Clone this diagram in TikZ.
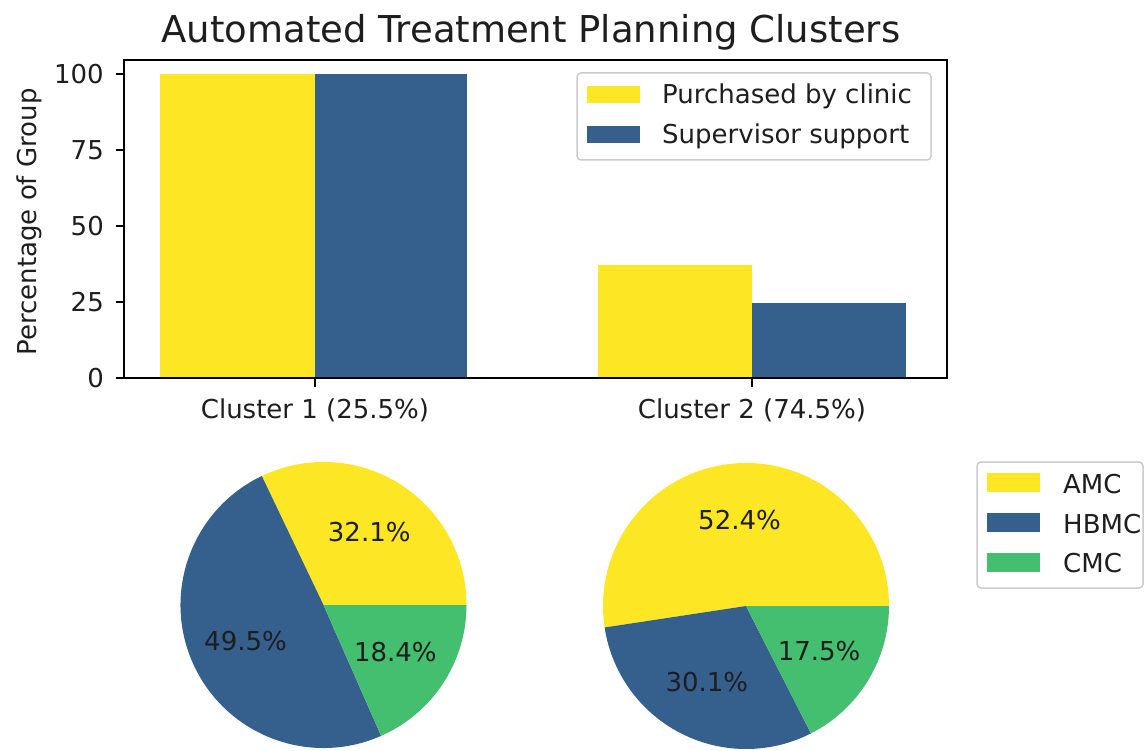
\documentclass[tikz,border=0pt]{standalone}
\usepackage{fontspec}
\setmainfont{DejaVu Sans}
\definecolor{vyel}{HTML}{FDE725}
\definecolor{vblu}{HTML}{355F8D}
\definecolor{vgrn}{HTML}{44BF70}
\definecolor{txt}{HTML}{1E1E1E}
\begin{document}
\begin{tikzpicture}[x=1pt,y=-1pt,
  lbl/.style={font=\fontsize{26}{30}\selectfont, text=txt, inner sep=0pt},
  ttl/.style={font=\fontsize{37}{44}\selectfont, text=txt, inner sep=0pt},
  spine/.style={draw=black, line width=2pt},
  tickmark/.style={draw=black, line width=1.8pt},
  legbox/.style={draw=black!20, line width=1.5pt, rounded corners=4pt, fill=white},
]
\useasboundingbox (0,0) rectangle (1146,751);
\fill[white] (0,0) rectangle (1146,751);

% title
\node[ttl, anchor=base] (title) at (531,43) {Automated Treatment Planning Clusters};

% bars
\fill[vyel] (160,378) rectangle (315,74);
\fill[vblu] (315,378) rectangle (467,74);
\fill[vyel] (598,378) rectangle (752,265);
\fill[vblu] (752,378) rectangle (906,303);

% axes frame
\draw[spine] (124,60) rectangle (947,378);

% y ticks
\foreach \v/\yy in {0/378,25/302,50/226,75/150,100/74}{
  \draw[tickmark] (116,\yy) -- (124,\yy);
  \node[lbl, anchor=base east] (ytick\v) at (104,\yy+9.5) {\v};
}
\node[lbl, rotate=90, anchor=base] (ylabel) at (36,222) {Percentage of Group};

% x ticks
\draw[tickmark] (315,378) -- (315,387);
\draw[tickmark] (752,378) -- (752,387);
\node[lbl, anchor=base] (xc1) at (315,418) {Cluster 1 (25.5\%)};
\node[lbl, anchor=base] (xc2) at (752,418) {Cluster 2 (74.5\%)};

% bar legend
\draw[legbox] (577,73) rectangle (931,160);
\fill[vyel] (587,86) rectangle (640,103);
\fill[vblu] (587,126) rectangle (640,143);
\node[lbl, anchor=base west] (leg1a) at (662,104) {Purchased by clinic};
\node[lbl, anchor=base west] (leg1b) at (662,144) {Supervisor support};

% pie 1
\begin{scope}[shift={(323.5,605)}, yscale=-1]
  \fill[vyel] (0,0) -- (0:143) arc[start angle=0, end angle=115.56, radius=143] -- cycle;
  \fill[vblu] (0,0) -- (115.56:143) arc[start angle=115.56, end angle=293.76, radius=143] -- cycle;
  \fill[vgrn] (0,0) -- (293.76:143) arc[start angle=293.76, end angle=360, radius=143] -- cycle;
  \node[lbl] (p1a) at (57.78:85.8) {32.1\%};
  \node[lbl] (p1b) at (204.66:85.8) {49.5\%};
  \node[lbl] (p1c) at (326.88:85.8) {18.4\%};
\end{scope}

% pie 2
\begin{scope}[shift={(746,606)}, yscale=-1]
  \fill[vyel] (0,0) -- (0:143) arc[start angle=0, end angle=188.64, radius=143] -- cycle;
  \fill[vblu] (0,0) -- (188.64:143) arc[start angle=188.64, end angle=297, radius=143] -- cycle;
  \fill[vgrn] (0,0) -- (297:143) arc[start angle=297, end angle=360, radius=143] -- cycle;
  \node[lbl] (p2a) at (94.32:85.8) {52.4\%};
  \node[lbl] (p2b) at (242.82:85.8) {30.1\%};
  \node[lbl] (p2c) at (328.5:85.8) {17.5\%};
\end{scope}

% pie legend
\draw[legbox] (977,462) rectangle (1143,588);
\fill[vyel] (987,473) rectangle (1040,492);
\fill[vblu] (987,513) rectangle (1040,532);
\fill[vgrn] (987,553) rectangle (1040,572);
\node[lbl, anchor=base west] (leg2a) at (1063,493) {AMC};
\node[lbl, anchor=base west] (leg2b) at (1063,533) {HBMC};
\node[lbl, anchor=base west] (leg2c) at (1063,572) {CMC};
\end{tikzpicture}
\end{document}
